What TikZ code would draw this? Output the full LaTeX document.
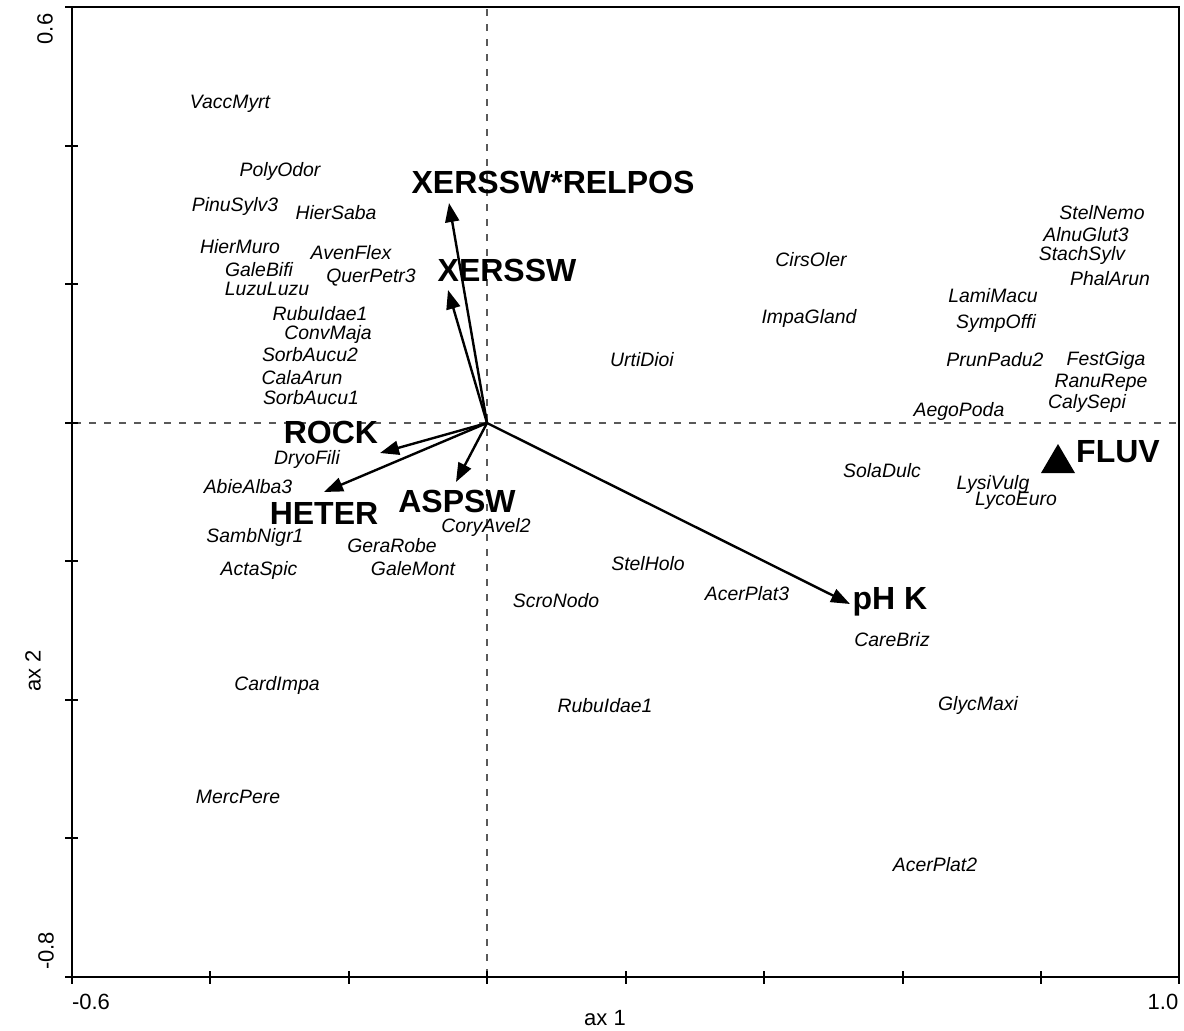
\documentclass[tikz,border=0pt]{standalone}
\usepackage{fontspec}
\setmainfont{Liberation Sans}
\usetikzlibrary{arrows.meta}
\begin{document}
\begin{tikzpicture}[x=1pt,y=-1pt,
  sp/.style={font=\itshape\fontsize{19.4}{22}\selectfont, inner sep=0pt, anchor=center},
  var/.style={font=\bfseries\fontsize{32}{36}\selectfont, inner sep=0pt, anchor=base},
  tick/.style={font=\fontsize{22}{24}\selectfont, inner sep=0pt},
  vec/.style={line width=2.4pt, -{Triangle[length=19pt,width=14pt]}},
  axisline/.style={line width=2.8pt},
  zeroline/.style={line width=1.1pt, draw=black!65, dash pattern=on 7pt off 8pt}
]
\useasboundingbox (0,0) rectangle (1184,1031);
% zero lines
\draw[zeroline] (487,9) -- (487,975);
\draw[zeroline] (74,423) -- (1177,423);
% frame / axes
\draw[axisline] (72,977) -- (1179,977);
\draw[axisline] (72,7) -- (72,977);
\draw[axisline] (65,7) -- (1180,7);
\draw[axisline] (1179,7) -- (1179,979);
\foreach \yy in {7,146,284,423,561,700,838,977} \draw[axisline] (65,\yy) -- (78,\yy);
\foreach \xx in {72,210,349,487,626,764,903,1041,1179} \draw[axisline] (\xx,971) -- (\xx,984);
% tick labels
\node[tick, rotate=90] (t06) at (45,29) {0.6};
\node[tick, rotate=90] (t08) at (46,951) {-0.8};
\node[tick] (tm06) at (91,1002) {-0.6};
\node[tick] (t10) at (1163,1002) {1.0};
\node[tick] (ax1) at (605,1018) {ax 1};
\node[tick, rotate=90] (ax2) at (33,671) {ax 2};
% origin and vector tips
\coordinate (o) at (487,423);
\coordinate (tXR) at (449,203);
\coordinate (tX) at (448,290);
\coordinate (tR) at (380,453);
\coordinate (tH) at (324,492);
\coordinate (tA) at (456,482);
\coordinate (tP) at (850,604);
\draw[vec] (o) -- (tXR);
\draw[vec] (o) -- (tX);
\draw[vec] (o) -- (tR);
\draw[vec] (o) -- (tH);
\draw[vec] (o) -- (tA);
\draw[vec] (o) -- (tP);
% variable labels
\node[var] (lXR) at (553,193) {XERSSW*RELPOS};
\node[var] (lX) at (507,281) {XERSSW};
\node[var] (lR) at (331,443) {ROCK};
\node[var] (lH) at (324,524) {HETER};
\node[var] (lA) at (457,512) {ASPSW};
\node[var] (lP) at (890,609) {pH K};
\node[var] (lF) at (1118,462) {FLUV};
\fill (1041,473) -- (1058,444) -- (1075,473) -- cycle;
% species
\node[sp] (s1) at (230,104) {VaccMyrt};
\node[sp] (s2) at (280,171) {PolyOdor};
\node[sp] (s3) at (235,206) {PinuSylv3};
\node[sp] (s4) at (336,213) {HierSaba};
\node[sp] (s5) at (240,247) {HierMuro};
\node[sp] (s6) at (351,253) {AvenFlex};
\node[sp] (s7) at (259,270) {GaleBifi};
\node[sp] (s8) at (371,278) {QuerPetr3};
\node[sp] (s9) at (267,289) {LuzuLuzu};
\node[sp] (s10) at (320,314) {RubuIdae1};
\node[sp] (s11) at (328,334) {ConvMaja};
\node[sp] (s12) at (310,355) {SorbAucu2};
\node[sp] (s13) at (302,378) {CalaArun};
\node[sp] (s14) at (311,398) {SorbAucu1};
\node[sp] (s15) at (307,459) {DryoFili};
\node[sp] (s16) at (248,487) {AbieAlba3};
\node[sp] (s17) at (486,527) {CoryAvel2};
\node[sp] (s18) at (255,537) {SambNigr1};
\node[sp] (s19) at (392,546) {GeraRobe};
\node[sp] (s20) at (259,570) {ActaSpic};
\node[sp] (s21) at (413,569) {GaleMont};
\node[sp] (s22) at (277,685) {CardImpa};
\node[sp] (s23) at (238,797) {MercPere};
\node[sp] (s24) at (811,260) {CirsOler};
\node[sp] (s25) at (809,318) {ImpaGland};
\node[sp] (s26) at (642,360) {UrtiDioi};
\node[sp] (s27) at (648,564) {StelHolo};
\node[sp] (s28) at (556,601) {ScroNodo};
\node[sp] (s29) at (747,594) {AcerPlat3};
\node[sp] (s30) at (892,640) {CareBriz};
\node[sp] (s31) at (605,706) {RubuIdae1};
\node[sp] (s32) at (978,705) {GlycMaxi};
\node[sp] (s33) at (935,865) {AcerPlat2};
\node[sp] (s34) at (959,411) {AegoPoda};
\node[sp] (s35) at (882,471) {SolaDulc};
\node[sp] (s36) at (993,484) {LysiVulg};
\node[sp] (s37) at (1016,501) {LycoEuro};
\node[sp] (s38) at (1102,213) {StelNemo};
\node[sp] (s39) at (1086,235) {AlnuGlut3};
\node[sp] (s40) at (1082,255) {StachSylv};
\node[sp] (s41) at (1110,279) {PhalArun};
\node[sp] (s42) at (993,296) {LamiMacu};
\node[sp] (s43) at (996,323) {SympOffi};
\node[sp] (s44) at (995,360) {PrunPadu2};
\node[sp] (s45) at (1106,360) {FestGiga};
\node[sp] (s46) at (1101,383) {RanuRepe};
\node[sp] (s47) at (1087,403) {CalySepi};
\end{tikzpicture}
\end{document}
